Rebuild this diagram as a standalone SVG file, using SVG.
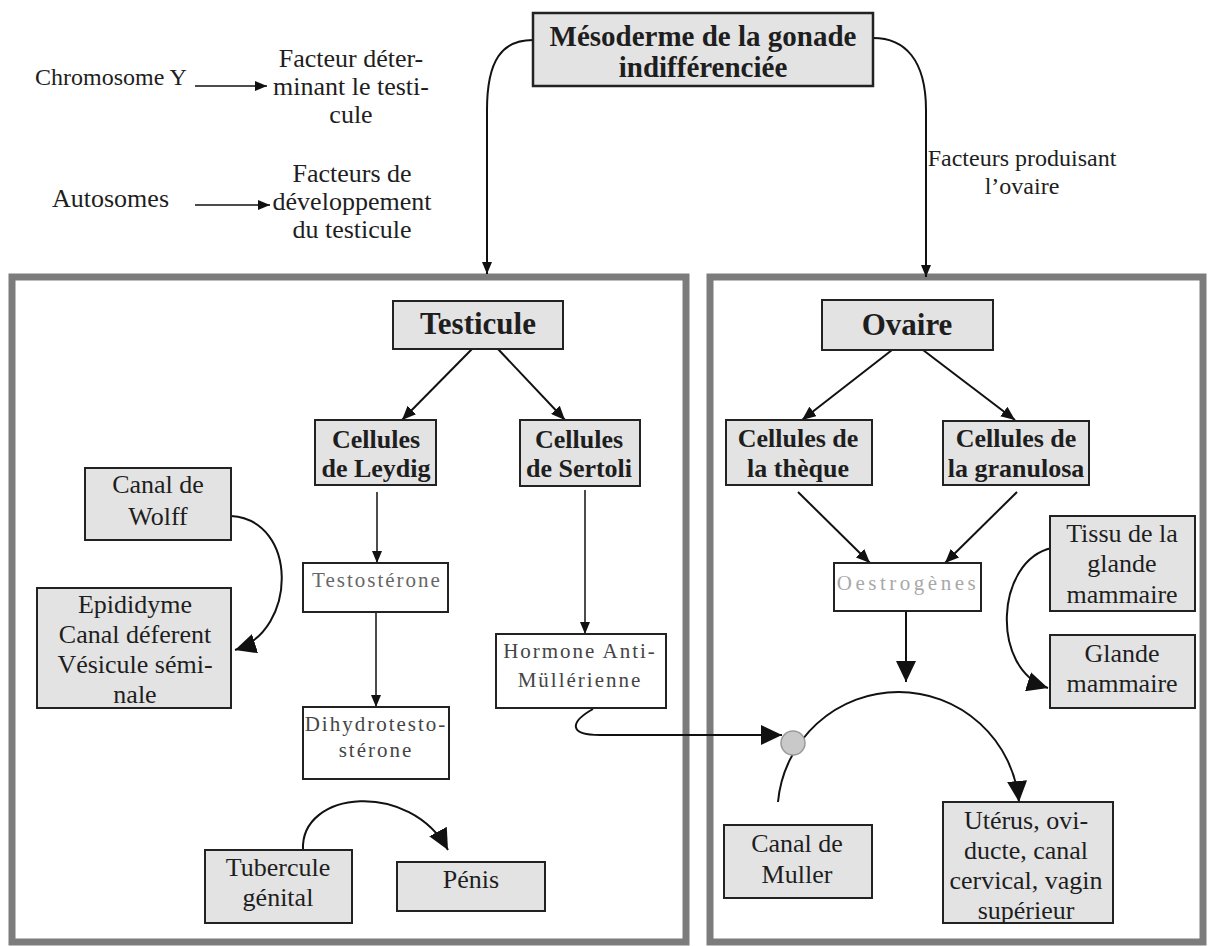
<svg xmlns="http://www.w3.org/2000/svg" width="1209" height="946" viewBox="0 0 1209 946">
  <style>
    text { font-family: "Liberation Serif", "Times New Roman", serif; fill: #1e1e1e; text-anchor: middle; }
    .t { font-size: 26px; }
    .side { font-size: 26px; }
    .b { font-size: 26px; font-weight: bold; }
    .title { font-size: 31px; font-weight: bold; }
    .top { font-size: 29px; font-weight: bold; }
    .s { font-size: 21px; letter-spacing: 2px; fill: #444; }
    .faint { font-size: 21px; letter-spacing: 3.5px; fill: #a8a8a8; }
    .grey { fill: #e3e3e3; stroke: #222; stroke-width: 2; }
    .white { fill: #ffffff; stroke: #222; stroke-width: 2; }
    .panel { fill: #ffffff; stroke: #7c7c7c; stroke-width: 7; }
    .ln { fill: none; stroke: #111; stroke-width: 2; }
    .thin { fill: none; stroke: #111; stroke-width: 1.5; }
  </style>
  <defs>
    <marker id="arrowS" markerUnits="userSpaceOnUse" markerWidth="12" markerHeight="10" refX="12" refY="5" orient="auto">
      <path d="M0,0 L12,5 L0,10 Z" fill="#111"/>
    </marker>
    <marker id="arrowM" markerUnits="userSpaceOnUse" markerWidth="14" markerHeight="12" refX="14" refY="6" orient="auto">
      <path d="M0,0 L14,6 L0,12 Z" fill="#111"/>
    </marker>
    <marker id="arrowL" markerUnits="userSpaceOnUse" markerWidth="21" markerHeight="20" refX="21" refY="10" orient="auto">
      <path d="M0,0 L21,10 L0,20 Z" fill="#111"/>
    </marker>
  </defs>

  <rect width="1209" height="946" fill="#ffffff"/>

  <!-- panels -->
  <g id="panel-testicule">
    <rect class="panel" x="12" y="277" width="674" height="665"/>
  </g>
  <g id="panel-ovaire">
    <rect class="panel" x="710" y="277" width="493" height="665"/>
  </g>

  <!-- free labels at the top left -->
  <g id="chromosome-y">
    <text class="side" x="35" y="85" style="text-anchor:start;font-size:24px">Chromosome Y</text>
  </g>
  <g id="facteur-determinant">
    <text class="side" x="351" y="67">Facteur déter-</text>
    <text class="side" x="351" y="95">minant le testi-</text>
    <text class="side" x="351" y="123">cule</text>
  </g>
  <g id="autosomes">
    <text class="side" x="52" y="207" style="text-anchor:start">Autosomes</text>
  </g>
  <g id="facteurs-developpement">
    <text class="side" x="352" y="182">Facteurs de</text>
    <text class="side" x="352" y="210">développement</text>
    <text class="side" x="352" y="238">du testicule</text>
  </g>
  <g id="facteurs-ovaire">
    <text class="side" x="1022" y="166" style="font-size:24px">Facteurs produisant</text>
    <text class="side" x="1022" y="194" style="font-size:24px">l’ovaire</text>
  </g>

  <!-- connectors -->
  <g id="connectors">
    <path class="thin" d="M195 86 L267 86" marker-end="url(#arrowS)"/>
    <path class="thin" d="M195 205 L270 205" marker-end="url(#arrowS)"/>
    <path class="ln" d="M533 40 C502 40 487 60 487 110 L487 274" marker-end="url(#arrowS)"/>
    <path class="ln" d="M873 38 C905 38 926 60 926 110 L926 277" marker-end="url(#arrowS)"/>

    <path class="ln" d="M472 349 L402 420" marker-end="url(#arrowM)"/>
    <path class="ln" d="M498 349 L565 420" marker-end="url(#arrowM)"/>
    <path class="thin" d="M377 492 L377 563" marker-end="url(#arrowS)"/>
    <path class="thin" d="M376 612 L376 707" marker-end="url(#arrowS)"/>
    <path class="thin" d="M585 490 L585 634" marker-end="url(#arrowS)"/>
    <path class="ln" d="M231 516 C298 520 298 630 235 650" marker-end="url(#arrowL)"/>
    <path class="ln" d="M303 850 C300 790 410 780 448 850" marker-end="url(#arrowL)"/>
    <path class="ln" d="M593 709 C570 722 568 735 600 735 L782 735" marker-end="url(#arrowL)"/>

    <path class="ln" d="M892 350 L802 420" marker-end="url(#arrowM)"/>
    <path class="ln" d="M923 350 L1015 420" marker-end="url(#arrowM)"/>
    <path class="ln" d="M798 492 L870 563" marker-end="url(#arrowM)"/>
    <path class="ln" d="M1017 492 L945 563" marker-end="url(#arrowM)"/>
    <path class="ln" d="M906 611 L906 682" marker-end="url(#arrowL)"/>
    <path class="ln" d="M1052 548 C995 560 990 670 1048 688" marker-end="url(#arrowL)"/>
    <path class="ln" d="M778 802 A121 121 0 0 1 1019 802" marker-end="url(#arrowL)"/>
    <circle cx="793" cy="743" r="12" fill="#c9c9c9" stroke="#9a9a9a" stroke-width="1.5"/>
  </g>

  <!-- nodes -->
  <g id="mesoderme">
    <rect class="grey" x="533" y="13" width="340" height="73" style="stroke-width:2.5"/>
    <text class="top" x="703" y="46">Mésoderme de la gonade</text>
    <text class="top" x="703" y="77">indifférenciée</text>
  </g>

  <g id="testicule">
    <rect class="grey" x="393" y="301" width="170" height="48"/>
    <text class="title" x="478" y="334">Testicule</text>
  </g>
  <g id="cellules-leydig">
    <rect class="grey" x="315" y="420" width="121" height="65"/>
    <text class="b" x="376" y="448">Cellules</text>
    <text class="b" x="376" y="477">de Leydig</text>
  </g>
  <g id="cellules-sertoli">
    <rect class="grey" x="520" y="420" width="120" height="66"/>
    <text class="b" x="579" y="448">Cellules</text>
    <text class="b" x="579" y="477">de Sertoli</text>
  </g>
  <g id="canal-wolff">
    <rect class="grey" x="85" y="468" width="146" height="72"/>
    <text class="t" x="158" y="493">Canal de</text>
    <text class="t" x="158" y="525">Wolff</text>
  </g>
  <g id="epididyme">
    <rect class="grey" x="37" y="588" width="194" height="120"/>
    <text class="t" x="135" y="613">Epididyme</text>
    <text class="t" x="135" y="643">Canal déferent</text>
    <text class="t" x="135" y="673">Vésicule sémi-</text>
    <text class="t" x="135" y="703">nale</text>
  </g>
  <g id="testosterone">
    <rect class="white" x="303" y="563" width="145" height="49"/>
    <text class="s" x="377" y="587" style="fill:#666">Testostérone</text>
  </g>
  <g id="dihydrotestosterone">
    <rect class="white" x="303" y="707" width="146" height="72"/>
    <text class="s" x="376" y="731">Dihydrotesto-</text>
    <text class="s" x="376" y="757">stérone</text>
  </g>
  <g id="hormone-anti-mullerienne">
    <rect class="white" x="496" y="634" width="170" height="74"/>
    <text class="s" x="580" y="658">Hormone Anti-</text>
    <text class="s" x="580" y="687">Müllérienne</text>
  </g>
  <g id="tubercule-genital">
    <rect class="grey" x="205" y="850" width="147" height="73"/>
    <text class="t" x="278" y="876">Tubercule</text>
    <text class="t" x="278" y="906">génital</text>
  </g>
  <g id="penis">
    <rect class="grey" x="397" y="862" width="148" height="49"/>
    <text class="t" x="471" y="888">Pénis</text>
  </g>

  <g id="ovaire">
    <rect class="grey" x="822" y="300" width="171" height="50"/>
    <text class="title" x="907" y="335">Ovaire</text>
  </g>
  <g id="cellules-theque">
    <rect class="grey" x="726" y="420" width="146" height="65"/>
    <text class="b" x="798" y="447">Cellules de</text>
    <text class="b" x="798" y="477">la thèque</text>
  </g>
  <g id="cellules-granulosa">
    <rect class="grey" x="943" y="421" width="146" height="64"/>
    <text class="b" x="1016" y="447">Cellules de</text>
    <text class="b" x="1016" y="477">la granulosa</text>
  </g>
  <g id="oestrogenes">
    <rect class="white" x="834" y="563" width="147" height="48"/>
    <text class="faint" x="908" y="590">Oestrogènes</text>
  </g>
  <g id="tissu-glande-mammaire">
    <rect class="grey" x="1050" y="516" width="145" height="95"/>
    <text class="t" x="1122" y="542">Tissu de la</text>
    <text class="t" x="1122" y="572">glande</text>
    <text class="t" x="1122" y="603">mammaire</text>
  </g>
  <g id="glande-mammaire">
    <rect class="grey" x="1050" y="635" width="145" height="73"/>
    <text class="t" x="1122" y="662">Glande</text>
    <text class="t" x="1122" y="692">mammaire</text>
  </g>
  <g id="canal-muller">
    <rect class="grey" x="724" y="825" width="148" height="73"/>
    <text class="t" x="797" y="852">Canal de</text>
    <text class="t" x="797" y="883">Muller</text>
  </g>
  <g id="uterus">
    <rect class="grey" x="943" y="802" width="170" height="121"/>
    <text class="t" x="1026" y="829">Utérus, ovi-</text>
    <text class="t" x="1026" y="859">ducte, canal</text>
    <text class="t" x="1026" y="889">cervical, vagin</text>
    <text class="t" x="1026" y="919">supérieur</text>
  </g>
</svg>
